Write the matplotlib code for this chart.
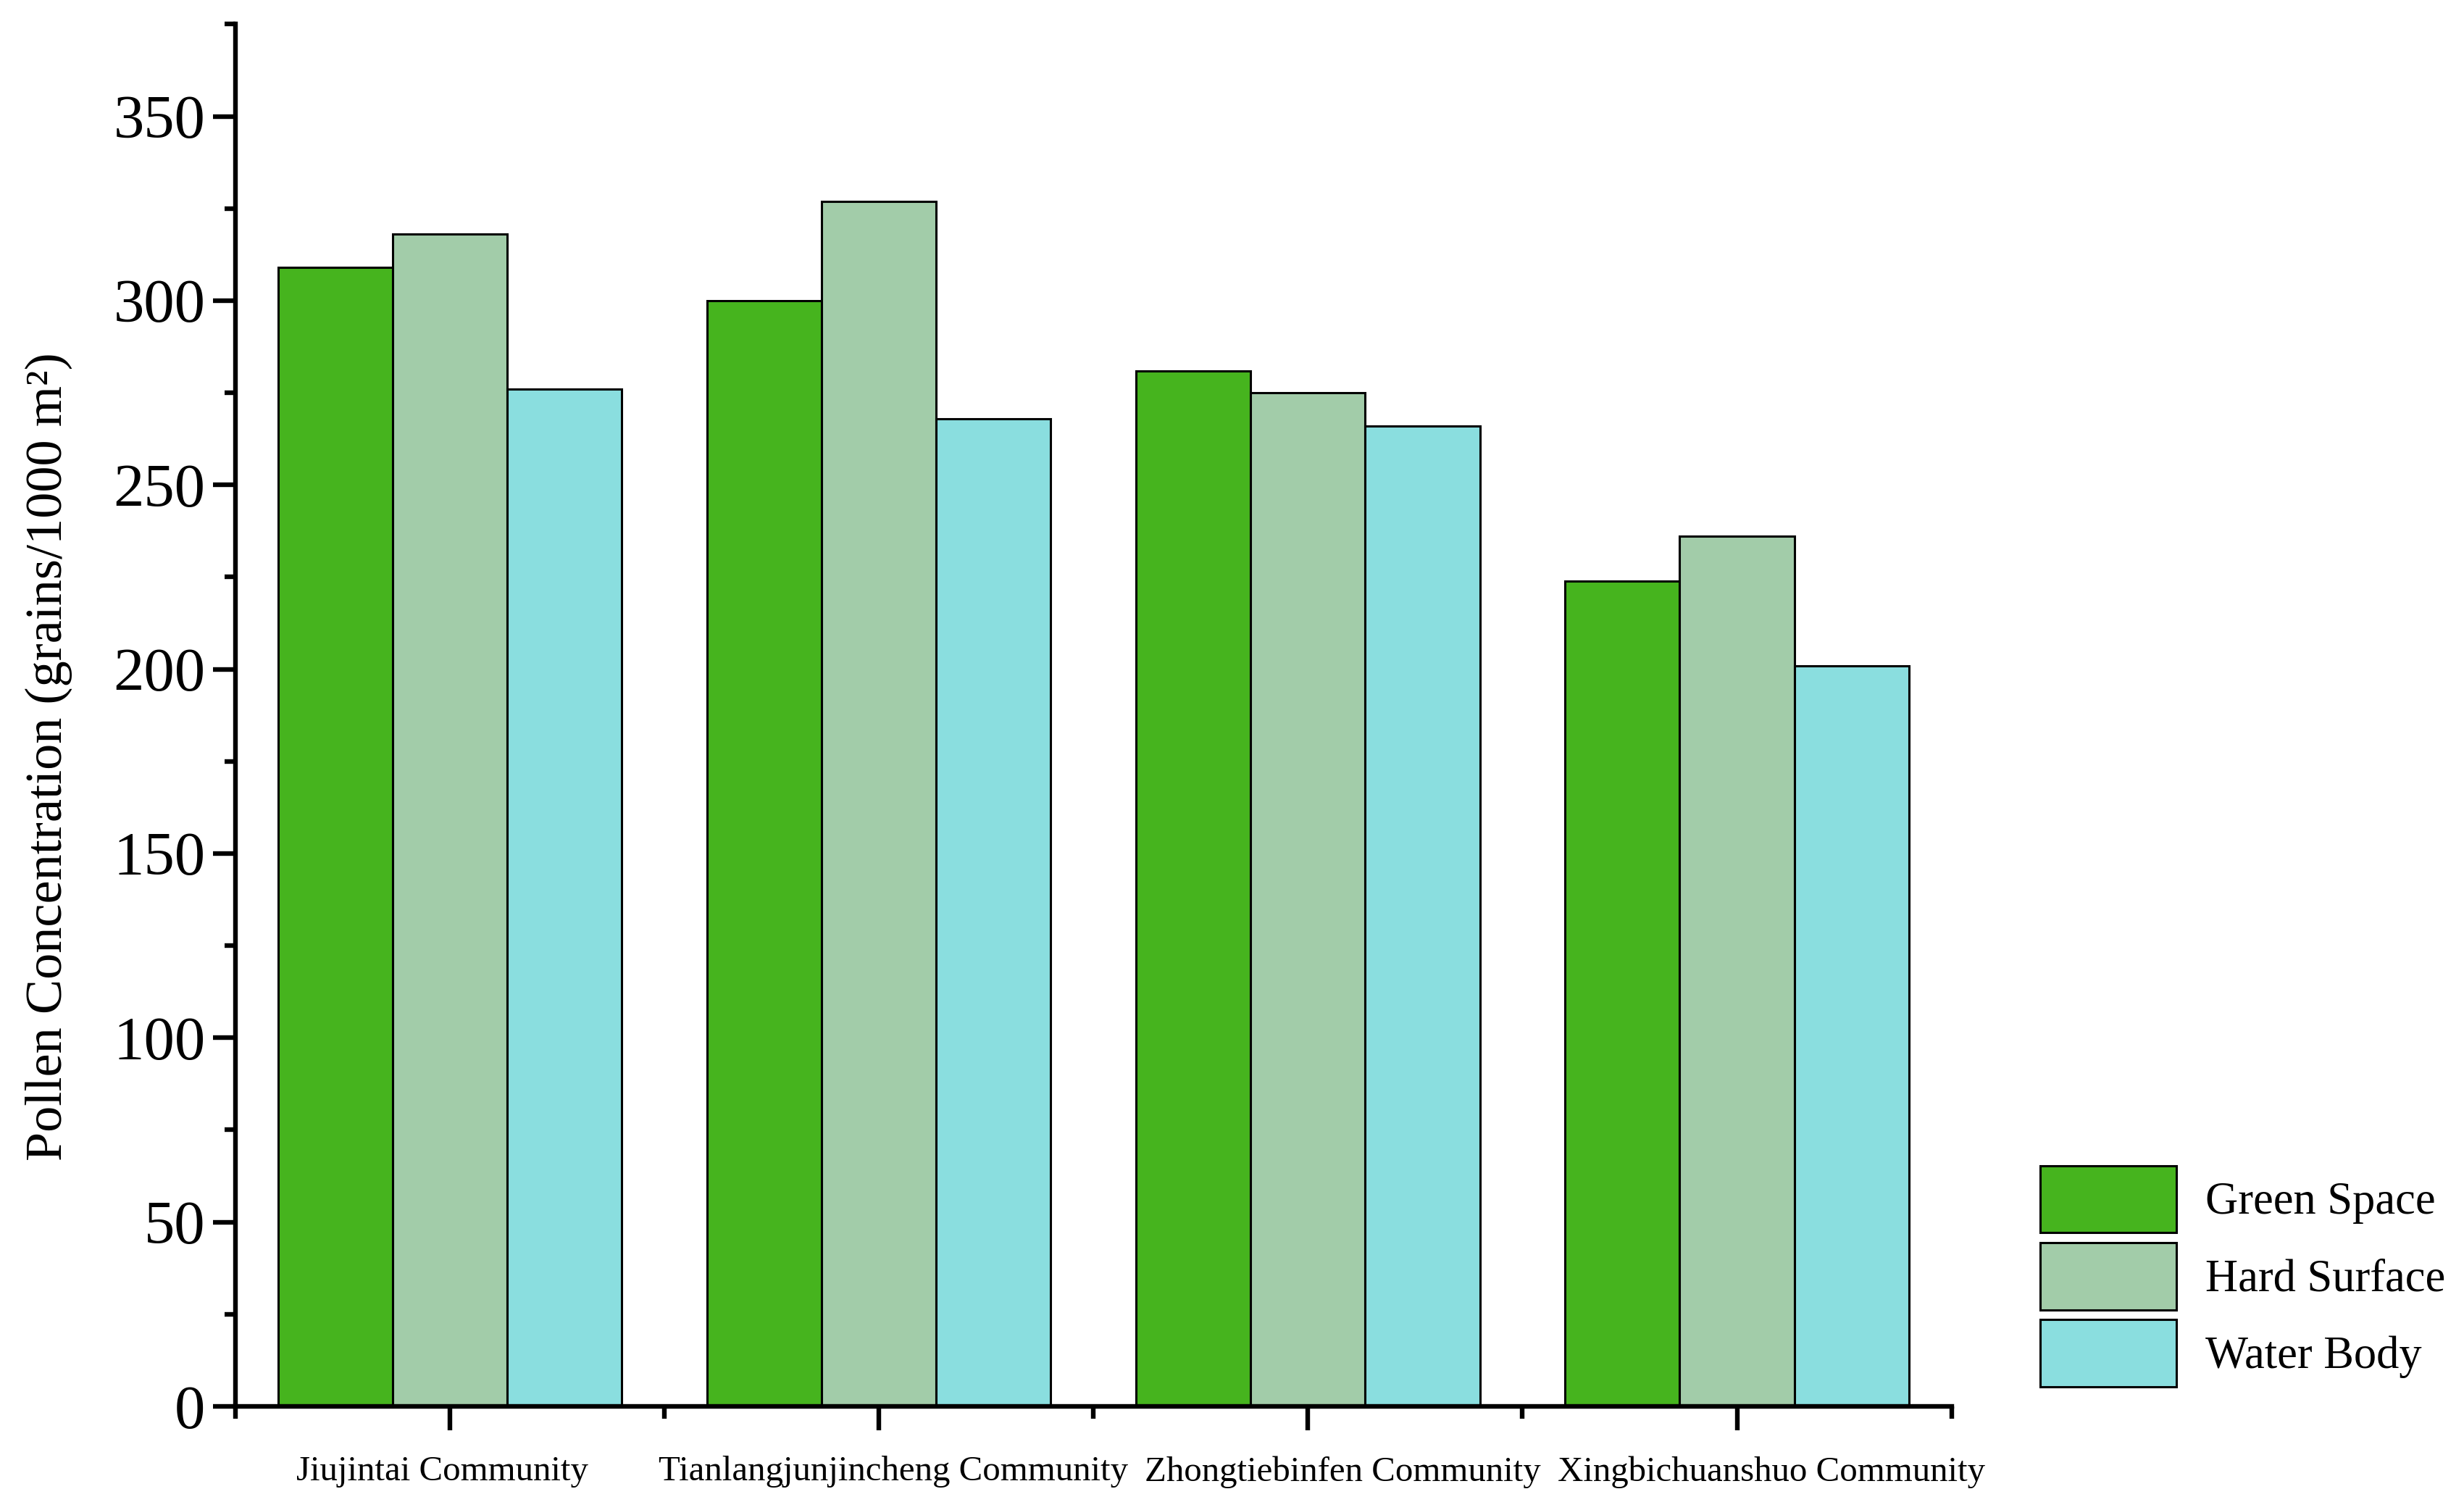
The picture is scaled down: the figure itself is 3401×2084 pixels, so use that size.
import numpy as np
import matplotlib
matplotlib.use('Agg')
import matplotlib.pyplot as plt
from matplotlib.ticker import MultipleLocator, FixedLocator
from matplotlib.transforms import ScaledTranslation

plt.rcParams['font.family'] = ['Liberation Serif', 'DejaVu Serif']

# data
communities = ['Jiujintai Community', 'Tianlangjunjincheng Community',
               'Zhongtiebinfen Community', 'Xingbichuanshuo Community']
series = ['Green Space', 'Hard Surface', 'Water Body']
green_space = [309, 300, 281, 224]
hard_surface = [318, 327, 275, 236]
water_body = [276, 268, 266, 201]
colors = ['#46B41E', '#A2CCA9', '#8ADEDF']

fig = plt.figure(figsize=(17.005, 10.42), dpi=200)
ax = fig.add_axes([0.0956, 0.0686, 0.6964, 0.9154])

x = np.arange(len(communities))
w = 0.267
for i, (vals, name) in enumerate(zip([green_space, hard_surface, water_body], series)):
    ax.bar(x + (i - 1) * w, vals, w, color=colors[i], edgecolor='black',
           linewidth=1.1, label=name)

ax.set_xlim(-0.5, 3.5)
ax.set_ylim(0, 375)
ax.spines['top'].set_visible(False)
ax.spines['right'].set_visible(False)
ax.spines['left'].set_linewidth(2.3)
ax.spines['bottom'].set_linewidth(2.3)

ax.set_xticks(x)
ax.set_xticklabels([])
# category labels: in the original they sit a little right of the group centres
shifts = [-0.054, 0.098, 0.239, 0.239]
for xi, name, dx in zip(x, communities, shifts):
    tr = ax.get_xaxis_transform() + ScaledTranslation(dx, -0.34, fig.dpi_scale_trans)
    ax.text(xi, 0, name, transform=tr, ha='center', va='top', fontsize=17.6)

ax.xaxis.set_minor_locator(FixedLocator(np.arange(-0.5, 4, 1)))
ax.yaxis.set_major_locator(MultipleLocator(50))
ax.yaxis.set_minor_locator(MultipleLocator(25))
ax.tick_params(axis='x', which='major', length=12, width=2.3)
ax.tick_params(axis='x', which='minor', length=6, width=2.3)
ax.tick_params(axis='y', which='major', length=11, width=2.3, pad=4, labelsize=30.5)
ax.tick_params(axis='y', which='minor', length=5.5, width=2.3)

ax.set_ylabel('Pollen Concentration (grains/1000 m²)', fontsize=26)
ax.yaxis.set_label_coords(-0.095, 0.47)

handles, labels = ax.get_legend_handles_labels()
fig.legend(handles, labels, loc='upper left', bbox_to_anchor=(0.828, 0.228),
           frameon=False, fontsize=22.5, handlelength=3.0, handleheight=1.9,
           labelspacing=0.22, handletextpad=0.65, borderpad=0, borderaxespad=0)

fig.savefig('out.png', dpi=200)
